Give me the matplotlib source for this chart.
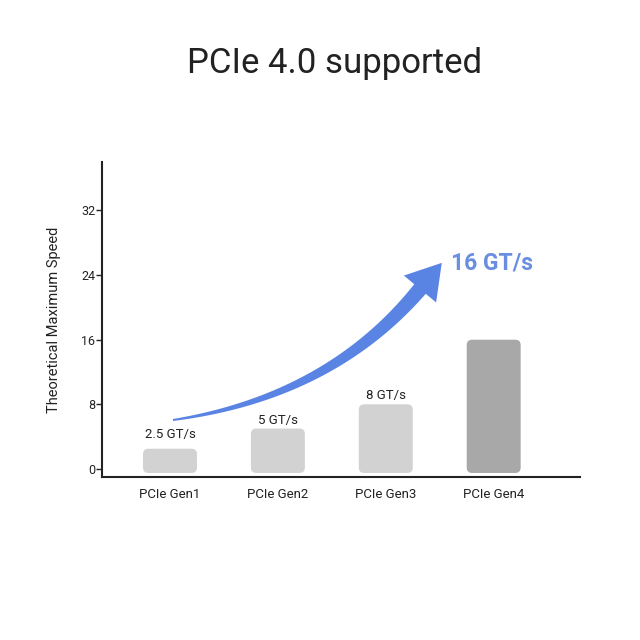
import matplotlib
matplotlib.use("Agg")
import matplotlib.pyplot as plt
import numpy as np
from matplotlib.patches import FancyBboxPatch, Polygon

categories = ["PCIe Gen1", "PCIe Gen2", "PCIe Gen3", "PCIe Gen4"]
speeds = [2.5, 5, 8, 16]
value_labels = ["2.5 GT/s", "5 GT/s", "8 GT/s", ""]
yticks = [0, 8, 16, 24, 32]
title = "PCIe 4.0 supported"
ylabel = "Theoretical Maximum Speed"
highlight = "16 GT/s"

plt.rcParams['font.family'] = ['Roboto', 'DejaVu Sans']

fig = plt.figure(figsize=(6.4, 6.4), dpi=100)
fig.patch.set_facecolor("white")
ax = fig.add_axes([102/640, 1-477/640, (580-102)/640, (477-162)/640])

x = np.arange(len(categories))
colors = ["#d2d2d2", "#d2d2d2", "#d2d2d2", "#a8a8a8"]
base = -0.5
bars = ax.bar(x, np.array(speeds) - base, bottom=base, width=0.5, color="none")
ax.set_xlim(-0.63, 3.8)
ax.set_ylim(-1, 38)

for b, c in zip(bars, colors):
    b.set_visible(False)
    fb = FancyBboxPatch((b.get_x(), b.get_y()), b.get_width(), b.get_height(),
                        boxstyle="round,pad=0,rounding_size=0.05",
                        mutation_aspect=13.4, facecolor=c, edgecolor="none")
    ax.add_patch(fb)

offsets_px = [14, 8, 9, 0]
for xi, v, lab, off in zip(x, speeds, value_labels, offsets_px):
    if lab:
        ax.annotate(lab, (xi, v), xytext=(0, off*0.72), textcoords="offset points",
                    ha="center", va="center", fontsize=9.5, color="#222222")

ax.set_xticks(x)
ax.set_xticklabels(categories, fontsize=9.5, color="#222222")
ax.tick_params(axis="x", length=0, pad=8)
ax.set_yticks(yticks)
ax.set_yticklabels([str(t) for t in yticks], fontsize=9, color="#222222")
ax.tick_params(axis="y", length=4, width=1, pad=1, color="#222222")
for s in ["top", "right"]:
    ax.spines[s].set_visible(False)
for s in ["left", "bottom"]:
    ax.spines[s].set_linewidth(1.5)
    ax.spines[s].set_color("#222222")
ax.set_ylabel(ylabel, fontsize=10.5, color="#222222", labelpad=14)

fig.text(335/640, 1-63/640, title, ha="center", va="center", fontsize=25, color="#222222")

P0 = np.array([173, 420.0]); P1 = np.array([330, 397.0]); P2 = np.array([420, 289.0])
t = np.linspace(0, 1, 80)
pts = ((1-t)**2)[:, None]*P0 + (2*(1-t)*t)[:, None]*P1 + (t**2)[:, None]*P2
d = (-2*(1-t))[:, None]*P0 + (2*(1-2*t))[:, None]*P1 + (2*t)[:, None]*P2
d /= np.linalg.norm(d, axis=1)[:, None]
nrm = np.stack([-d[:, 1], d[:, 0]], axis=1)
w = 1 + 6.5*t
up = pts + nrm*w[:, None]
lo = pts - nrm*w[:, None]
tip_dir = d[-1]
tip_n = nrm[-1]
tip = P2 + tip_dir*34
hb1 = P2 + tip_n*21
hb2 = P2 - tip_n*21
poly = np.vstack([up, hb1, tip, hb2, lo[::-1]])
poly_f = np.column_stack([poly[:, 0]/640, 1-poly[:, 1]/640])
fig.patches.append(Polygon(poly_f, closed=True, transform=fig.transFigure,
                           facecolor="#5a84e4", edgecolor="none"))

fig.text(451/640, 1-263/640, highlight, ha="left", va="center", fontsize=16.5,
         fontweight="bold", color="#6a8ee0")

fig.savefig("out.png", dpi=100, facecolor="white")
